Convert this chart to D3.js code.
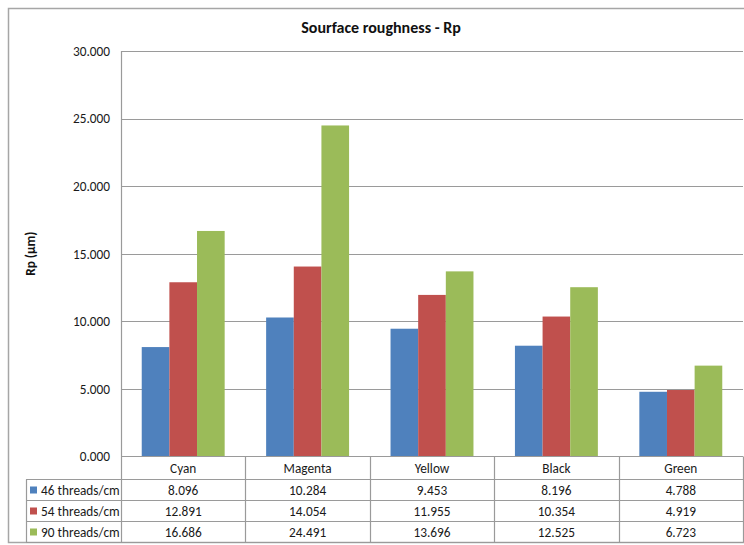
<!DOCTYPE html>
<html>
<head>
<meta charset="utf-8">
<script src="https://cdn.jsdelivr.net/npm/d3@7"></script>
<style>
  html, body { margin: 0; padding: 0; background: #fff; }
  svg { display: block; font-family: Carlito, Calibri, Lato, sans-serif; }
</style>
</head>
<body>
<svg id="chart" width="744" height="545"></svg>
<script>
const categories = ["Cyan", "Magenta", "Yellow", "Black", "Green"];
const seriesNames = ["46 threads/cm", "54 threads/cm", "90 threads/cm"];
const values46 = [8.096, 10.284, 9.453, 8.196, 4.788];
const values54 = [12.891, 14.054, 11.955, 10.354, 4.919];
const values90 = [16.686, 24.491, 13.696, 12.525, 6.723];
const seriesColors = ["#4F81BD", "#C0504D", "#9BBB59"];
const yTicks = [0, 5, 10, 15, 20, 25, 30];
const chartTitle = "Sourface roughness - Rp";
const yTitle = "Rp (µm)";

const seriesValues = [values46, values54, values90];
const fmt = d3.format(".3f");

const svg = d3.select("#chart");
const W = 744, H = 545;
const plotL = 121, plotR = 743, plotT = 51, plotB = 456.5;
const gridColor = "#9a9a9a";
const textColor = "#1a1a1a";

svg.append("rect").attr("width", W).attr("height", H).attr("fill", "#fff");

// outer border
svg.append("rect")
  .attr("x", 8.5).attr("y", 8.5).attr("width", 760).attr("height", 534)
  .attr("fill", "none").attr("stroke", "#a6a6a6").attr("stroke-width", 1.5);

const x = d3.scaleBand().domain(categories).range([plotL, plotR]).padding(0);
const bw = x.bandwidth();
const xs = d3.scaleBand().domain(seriesNames)
  .range([bw * 0.75 / 4.5, bw - bw * 0.75 / 4.5]).padding(0);
const y = d3.scaleLinear().domain([0, 30]).range([plotB, plotT]);

// gridlines
svg.append("g").selectAll("line").data(yTicks.filter(d => d > 0)).join("line")
  .attr("x1", plotL).attr("x2", plotR)
  .attr("y1", d => Math.round(y(d)) + 0.5).attr("y2", d => Math.round(y(d)) + 0.5)
  .attr("stroke", gridColor).attr("stroke-width", 1.2);

// y axis
const yAxis = d3.axisLeft(y).tickValues(yTicks).tickFormat(fmt).tickSize(0).tickPadding(11);
const yg = svg.append("g").attr("transform", `translate(${plotL},0)`).call(yAxis);
yg.select(".domain").remove();
yg.selectAll("text").attr("font-size", 13.3).attr("fill", textColor)
  .attr("font-family", "Carlito, Calibri, Lato, sans-serif");

// bars
const groups = svg.append("g").selectAll("g").data(categories).join("g")
  .attr("transform", d => `translate(${x(d)},0)`);
groups.selectAll("rect").data((c, ci) => seriesNames.map((s, si) => ({ s, si, v: seriesValues[si][ci] })))
  .join("rect")
  .attr("x", d => xs(d.s)).attr("width", xs.bandwidth())
  .attr("y", d => y(d.v)).attr("height", d => y(0) - y(d.v))
  .attr("fill", d => seriesColors[d.si]);

// left axis line
svg.append("line").attr("x1", plotL + 0.5).attr("x2", plotL + 0.5)
  .attr("y1", plotT).attr("y2", 542.5).attr("stroke", gridColor).attr("stroke-width", 1.2);

// data table
const tableL = 26, tableB = 542.5;
const rowLines = [456.5, 479.5, 500.5, 521.5, 542.5];
const tg = svg.append("g");
tg.append("line").attr("x1", plotL).attr("x2", plotR).attr("y1", rowLines[0]).attr("y2", rowLines[0])
  .attr("stroke", gridColor).attr("stroke-width", 1.2);
rowLines.slice(1).forEach(yy => {
  tg.append("line").attr("x1", tableL).attr("x2", plotR).attr("y1", yy).attr("y2", yy)
    .attr("stroke", gridColor).attr("stroke-width", 1.2);
});
tg.append("line").attr("x1", tableL + 0.5).attr("x2", tableL + 0.5)
  .attr("y1", rowLines[1]).attr("y2", tableB).attr("stroke", gridColor).attr("stroke-width", 1.2);
categories.forEach(c => {
  const xx = Math.round(x(c) + bw) + 0.5;
  tg.append("line").attr("x1", xx).attr("x2", xx)
    .attr("y1", rowLines[0]).attr("y2", tableB).attr("stroke", gridColor).attr("stroke-width", 1.2);
});
tg.selectAll("text.cat").data(categories).join("text").attr("class", "cat")
  .attr("x", d => x(d) + bw / 2).attr("y", (rowLines[0] + rowLines[1]) / 2)
  .attr("dy", "0.35em").attr("text-anchor", "middle").attr("font-size", 13.3).attr("fill", textColor)
  .text(d => d);
seriesNames.forEach((s, si) => {
  const cy = (rowLines[si + 1] + rowLines[si + 2]) / 2;
  tg.append("rect").attr("x", 30).attr("y", cy - 3.5).attr("width", 7).attr("height", 7)
    .attr("fill", seriesColors[si]);
  tg.append("text").attr("x", 41).attr("y", cy).attr("dy", "0.35em")
    .attr("font-size", 13.3).attr("fill", textColor).text(s);
  tg.selectAll(null).data(seriesValues[si]).join("text")
    .attr("x", (d, i) => x(categories[i]) + bw / 2).attr("y", cy).attr("dy", "0.35em")
    .attr("text-anchor", "middle").attr("font-size", 13.3).attr("fill", textColor)
    .text(d => fmt(d));
});

// title
svg.append("text").attr("x", 381).attr("y", 27).attr("dy", "0.35em")
  .attr("text-anchor", "middle").attr("font-size", 16).attr("font-weight", "bold").attr("fill", "#111")
  .text(chartTitle);

// y title
svg.append("text").attr("transform", `translate(30,${(plotT + plotB) / 2}) rotate(-90)`)
  .attr("dy", "0.35em").attr("text-anchor", "middle").attr("font-size", 13.3).attr("font-weight", "bold")
  .attr("fill", "#111").text(yTitle);
</script>
</body>
</html>
